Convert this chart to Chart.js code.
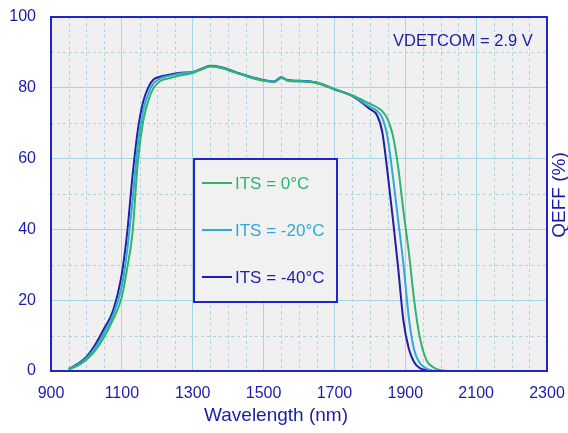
<!DOCTYPE html>
<html>
<head>
<meta charset="utf-8">
<script src="https://cdn.jsdelivr.net/npm/chart.js@4/dist/chart.umd.min.js"></script>
<style>
  html, body { margin: 0; padding: 0; background: #fff; }
  #wrap { width: 568px; height: 433px; }
</style>
</head>
<body>
<div id="wrap"><canvas id="qeChart"></canvas></div>
<script>
// Wavelength samples (nm) shared by the three curves
const wavelengths = [950, 975, 1000, 1025, 1050, 1075, 1100, 1115, 1130, 1145, 1160, 1175, 1190, 1210, 1230, 1260, 1300, 1330, 1350, 1380, 1420, 1460, 1500, 1530, 1550, 1570, 1600, 1650, 1700, 1750, 1800, 1820, 1835, 1850, 1865, 1880, 1895, 1910, 1925, 1940, 1960, 1980, 2000, 2025, 2050];

// QE (%) per detector temperature
const qe0C   = [0.4, 1.5, 3.2, 5.8, 9.6, 14.5, 21.0, 29.0, 39.0, 59.0, 70.5, 76.5, 80.0, 82.0, 82.6, 83.4, 84.2, 85.4, 86.0, 85.6, 84.3, 83.0, 82.0, 81.6, 82.8, 81.9, 81.8, 81.3, 79.6, 77.9, 75.5, 74.5, 73.4, 71.2, 66.5, 57.5, 45.0, 33.5, 20.0, 10.0, 3.0, 1.0, 0.2, 0, 0];
const qeM20C = [0.5, 1.8, 3.6, 6.6, 10.8, 15.8, 24.0, 34.0, 48.0, 64.0, 73.5, 78.5, 81.3, 82.7, 83.3, 84.0, 84.4, 85.5, 86.1, 85.7, 84.4, 83.1, 82.1, 81.7, 82.9, 82.0, 81.9, 81.4, 79.6, 77.8, 74.6, 73.5, 71.5, 66.0, 55.0, 42.5, 30.0, 15.0, 6.0, 2.4, 0.7, 0.1, 0, 0, 0];
const qeM40C = [0.6, 2.0, 4.0, 7.5, 12.0, 17.0, 27.5, 39.0, 55.0, 68.0, 76.0, 80.2, 82.4, 83.2, 83.6, 84.2, 84.5, 85.6, 86.2, 85.8, 84.5, 83.2, 82.2, 81.8, 83.0, 82.1, 82.0, 81.5, 79.6, 77.7, 74.0, 72.3, 67.5, 56.0, 43.0, 29.0, 14.0, 6.3, 2.5, 0.9, 0.2, 0, 0, 0, 0];

const seriesLabels = ['ITS = 0°C', 'ITS = -20°C', 'ITS = -40°C'];
const seriesColors = ['#2fb36e', '#2ea9d9', '#1f1fa6'];

const xTicks = [900, 1100, 1300, 1500, 1700, 1900, 2100, 2300];
const yTicks = [0, 20, 40, 60, 80, 100];

const FONT = '"Liberation Sans", Arial, Helvetica, sans-serif';
const textBlue = '#1c1ca8';
const frameBlue = '#2323c8';
const gridColor = '#a6d6e6';

const toPoints = (arr) => arr.map((v, i) => ({ x: wavelengths[i], y: v }));

// background, dashed minor grid, frame, legend box and free texts
const decor = {
    id: 'decor',
    beforeDraw(chart) {
        const { ctx, chartArea: a } = chart;
        ctx.save();
        ctx.fillStyle = '#f0f0f0';
        ctx.fillRect(a.left, a.top, a.right - a.left, a.bottom - a.top);
        ctx.restore();
    },
    beforeDatasetsDraw(chart) {
        const { ctx, chartArea: a, scales: { x, y } } = chart;
        ctx.save();
        ctx.strokeStyle = gridColor;
        ctx.lineWidth = 1;
        ctx.setLineDash([3, 3]);
        for (let v = 950; v < 2300; v += 50) {
            if ((v - 900) % 200 === 0) continue;
            const px = Math.round(x.getPixelForValue(v)) + 0.5;
            ctx.beginPath(); ctx.moveTo(px, a.top); ctx.lineTo(px, a.bottom); ctx.stroke();
        }
        for (let v = 10; v < 100; v += 20) {
            const py = Math.round(y.getPixelForValue(v)) + 0.5;
            ctx.beginPath(); ctx.moveTo(a.left, py); ctx.lineTo(a.right, py); ctx.stroke();
        }
        ctx.restore();
    },
    afterDatasetsDraw(chart) {
        const { ctx, chartArea: a } = chart;
        ctx.save();
        // plot frame
        ctx.strokeStyle = frameBlue;
        ctx.lineWidth = 2;
        ctx.strokeRect(a.left, a.top, a.right - a.left, a.bottom - a.top);

        // legend box
        ctx.fillStyle = '#f1f1f1';
        ctx.fillRect(194, 159, 143, 143);
        ctx.strokeRect(194, 159, 143, 143);
        ctx.font = '17px ' + FONT;
        ctx.textBaseline = 'middle';
        ctx.textAlign = 'left';
        const rows = [183, 230, 277];
        chart.data.datasets.forEach((ds, i) => {
            ctx.strokeStyle = ds.borderColor;
            ctx.lineWidth = 2;
            ctx.beginPath(); ctx.moveTo(202, rows[i]); ctx.lineTo(232, rows[i]); ctx.stroke();
            ctx.fillStyle = ds.borderColor;
            ctx.fillText(ds.label, 235, rows[i] + 1);
        });

        // annotation
        ctx.fillStyle = textBlue;
        ctx.font = '16.5px ' + FONT;
        ctx.fillText('VDETCOM = 2.9 V', 393, 41);

        // axis titles
        ctx.font = '19px ' + FONT;
        ctx.textAlign = 'center';
        ctx.fillText('Wavelength (nm)', 276, 416);
        ctx.translate(560, 195);
        ctx.rotate(-Math.PI / 2);
        ctx.fillText('QEFF (%)', 0, 0);
        ctx.restore();
    }
};

new Chart(document.getElementById('qeChart'), {
    type: 'line',
    data: {
        datasets: [qe0C, qeM20C, qeM40C].map((arr, i) => ({
            label: seriesLabels[i],
            data: toPoints(arr),
            borderColor: seriesColors[i],
            backgroundColor: seriesColors[i],
            borderWidth: 2,
            pointRadius: 0,
            cubicInterpolationMode: 'monotone',
            fill: false
        }))
    },
    options: {
        responsive: true,
        maintainAspectRatio: false,
        animation: false,
        layout: { padding: { top: 17, right: 21, left: 0, bottom: 0 } },
        plugins: {
            legend: { display: false },
            tooltip: { enabled: false }
        },
        scales: {
            x: {
                type: 'linear',
                min: 900,
                max: 2300,
                afterBuildTicks: (s) => { s.ticks = xTicks.map(v => ({ value: v })); },
                afterFit: (s) => { s.height = 62; s.paddingLeft = 0; s.paddingRight = 0; },
                border: { display: false },
                grid: { color: gridColor, drawTicks: false },
                ticks: {
                    color: textBlue,
                    font: { family: FONT, size: 16 },
                    padding: 13,
                    maxRotation: 0,
                    callback: (v) => String(v)
                }
            },
            y: {
                min: 0,
                max: 100,
                afterBuildTicks: (s) => { s.ticks = yTicks.map(v => ({ value: v })); },
                afterFit: (s) => { s.width = 51; s.paddingTop = 0; s.paddingBottom = 0; },
                border: { display: false },
                grid: { color: gridColor, drawTicks: false },
                ticks: {
                    color: textBlue,
                    font: { family: FONT, size: 16 },
                    padding: 15,
                    callback: (v) => String(v)
                }
            }
        }
    },
    plugins: [decor]
});
</script>
</body>
</html>
